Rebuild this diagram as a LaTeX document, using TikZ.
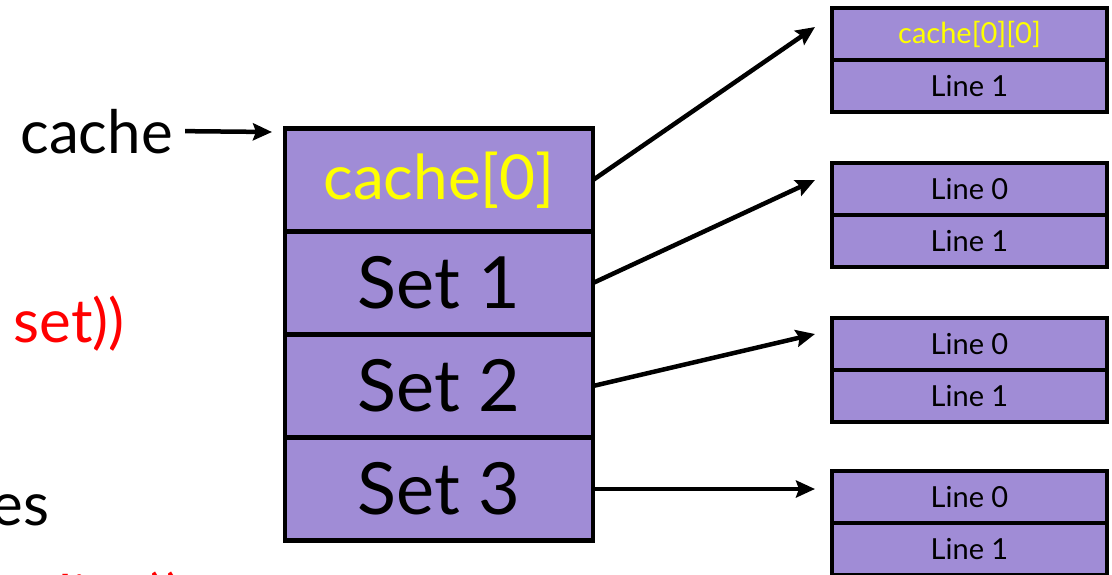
\documentclass[tikz,border=0pt]{standalone}
\usepackage{fontspec}
\setmainfont{Lato}
\usetikzlibrary{arrows.meta,positioning}
\definecolor{setpurple}{RGB}{160,140,214}
\definecolor{hlyellow}{RGB}{255,255,0}
\tikzset{every picture/.style={line width=0.75pt}}
\tikzset{
setcell/.style={draw, fill=setpurple, line width=4.5pt, outer sep=0pt, inner sep=0pt,
  minimum width=308pt, minimum height=103pt, font=\fontsize{72}{72}\selectfont},
linecell/.style={draw, fill=setpurple, line width=4pt, outer sep=0pt, inner sep=0pt,
  minimum width=275pt, minimum height=52pt, font=\fontsize{29}{29}\selectfont},
ptrarrow/.style={line width=4.5pt, -{Stealth[length=19pt,width=17pt,inset=3pt]}},
slidetext/.style={inner sep=0pt, font=\fontsize{60}{60}\selectfont}
}

\begin{document}
\begin{tikzpicture}[x=1pt,y=1pt,yscale=-1,xscale=1]
\useasboundingbox (0,0) rectangle (1112,574);
\clip (0,0) rectangle (1112,574);

% Text Node
\node (rednote) [slidetext, text=red, anchor=base east] at (125,342) {e set))};
% Text Node
\node (entries) [slidetext, anchor=base east] at (50,525) {es};
% Text Node
\node (rednote2) [slidetext, text=red, anchor=base east] at (183,618) {he line))};

%Shape: Rectangle (the array of sets)
\node (set0) [setcell, font=\fontsize{62}{62}\selectfont, text=hlyellow] at (439,180) {cache[0]};
\node (set1) [setcell, below=0pt of set0] {Set 1};
\node (set2) [setcell, below=0pt of set1] {Set 2};
\node (set3) [setcell, below=0pt of set2] {Set 3};

%Shape: Rectangle (lines of each set)
\node (line00) [linecell, text=hlyellow] at (969.5,34) {cache[0][0]};
\node (line01) [linecell, below=0pt of line00] {Line 1};
\node (line10) [linecell] at (969.5,189) {Line 0};
\node (line11) [linecell, below=0pt of line10] {Line 1};
\node (line20) [linecell] at (969.5,344) {Line 0};
\node (line21) [linecell, below=0pt of line20] {Line 1};
\node (line30) [linecell] at (969.5,497) {Line 0};
\node (line31) [linecell, below=0pt of line30] {Line 1};

% Text Node
\node (cache) [slidetext, anchor=base west] at (20,153) {cache};
\coordinate (ptr) at (272,132);
%Straight Lines
\draw [ptrarrow] ([xshift=12pt]cache.east) -- (ptr);

\coordinate (tip0) at (815,27);
\coordinate (tip1) at (815,180);
\coordinate (tip2) at (815,334);
\coordinate (tip3) at (815,489);
%Straight Lines
\draw [ptrarrow] (set0.east) -- (tip0);
\draw [ptrarrow] (set1.east) -- (tip1);
\draw [ptrarrow] (set2.east) -- (tip2);
\draw [ptrarrow] (set3.east) -- (tip3);
\end{tikzpicture}
\end{document}
